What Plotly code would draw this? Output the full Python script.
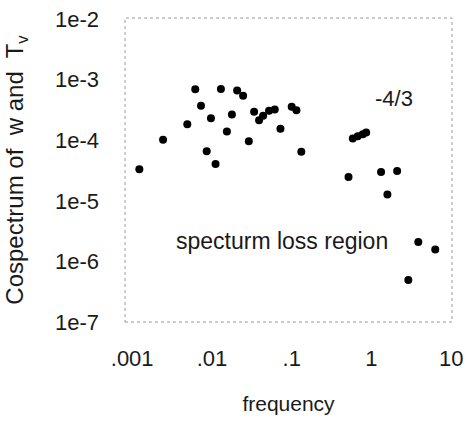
import plotly.graph_objects as go
import math

frequency = [0.00123, 0.00244, 0.00491, 0.00618, 0.00729, 0.0086, 0.0111, 0.00972,
             0.01296, 0.0178, 0.0154, 0.0207, 0.0246, 0.029, 0.0338, 0.039, 0.0438,
             0.052, 0.0613, 0.0723, 0.100, 0.1146, 0.132, 0.516, 0.584, 0.674, 0.778,
             0.859, 1.32, 2.10, 1.585, 3.87, 6.31, 2.90]
cospectrum = [3.32e-5, 1.02e-4, 1.85e-4, 6.95e-4, 3.72e-4, 6.6e-5, 4.06e-5, 2.32e-4,
              7.03e-4, 2.68e-4, 1.40e-4, 6.65e-4, 5.45e-4, 9.66e-5, 2.96e-4, 2.15e-4, 2.54e-4,
              3.08e-4, 3.24e-4, 1.55e-4, 3.58e-4, 3.15e-4, 6.5e-5, 2.47e-5, 1.07e-4, 1.17e-4, 1.26e-4,
              1.35e-4, 2.99e-5, 3.11e-5, 1.28e-5, 2.1e-6, 1.58e-6, 4.92e-7]

x_tickvals = [0.001, 0.01, 0.1, 1, 10]
x_ticktext = [".001", ".01", ".1", "1", "10"]
y_tickvals = [1e-2, 1e-3, 1e-4, 1e-5, 1e-6, 1e-7]
y_ticktext = ["1e-2", "1e-3", "1e-4", "1e-5", "1e-6", "1e-7"]

slope_label = "-4/3"
region_label = "specturm loss region"

FONT = "Liberation Sans, Arial, sans-serif"
INK = "#1a1a1a"

fig = go.Figure()
fig.add_trace(go.Scatter(
    x=frequency, y=cospectrum, mode="markers",
    marker=dict(color="black", size=8, symbol="circle"),
    showlegend=False, cliponaxis=False,
))

fig.add_annotation(x=math.log10(1.9), y=math.log10(5.0e-4), xref="x", yref="y",
                   text=slope_label, showarrow=False,
                   font=dict(family=FONT, size=22, color=INK))
fig.add_annotation(x=math.log10(0.075), y=math.log10(2.2e-6), xref="x", yref="y",
                   text=region_label, showarrow=False,
                   font=dict(family=FONT, size=23, color=INK))

fig.add_shape(type="rect", xref="paper", yref="paper", x0=0, y0=0, x1=1, y1=1,
              line=dict(color="#9a9a9a", width=1, dash="dot"), layer="below")

fig.update_xaxes(type="log", range=[-3.09, 1.01],
                 tickvals=x_tickvals, ticktext=x_ticktext,
                 showgrid=False, zeroline=False, showline=False, automargin=False,
                 ticks="", ticklabelstandoff=21,
                 tickfont=dict(family=FONT, size=22, color=INK),
                 title=dict(text="frequency", font=dict(family=FONT, size=21, color=INK), standoff=26))
fig.update_yaxes(type="log", range=[-7.0, -1.98],
                 tickvals=y_tickvals, ticktext=y_ticktext,
                 showgrid=False, zeroline=False, showline=False, automargin=False,
                 ticks="", ticklabelstandoff=25,
                 tickfont=dict(family=FONT, size=22, color=INK),
                 title=dict(text="Cospectrum of  w and  T<sub>v</sub>",
                            font=dict(family=FONT, size=24, color=INK), standoff=24))

fig.update_layout(
    width=467, height=421,
    margin=dict(l=125, r=15, t=18, b=99),
    paper_bgcolor="white", plot_bgcolor="white",
)

fig.write_html("out.html", config={"displayModeBar": False},
               post_script="document.body.style.margin='0';")
